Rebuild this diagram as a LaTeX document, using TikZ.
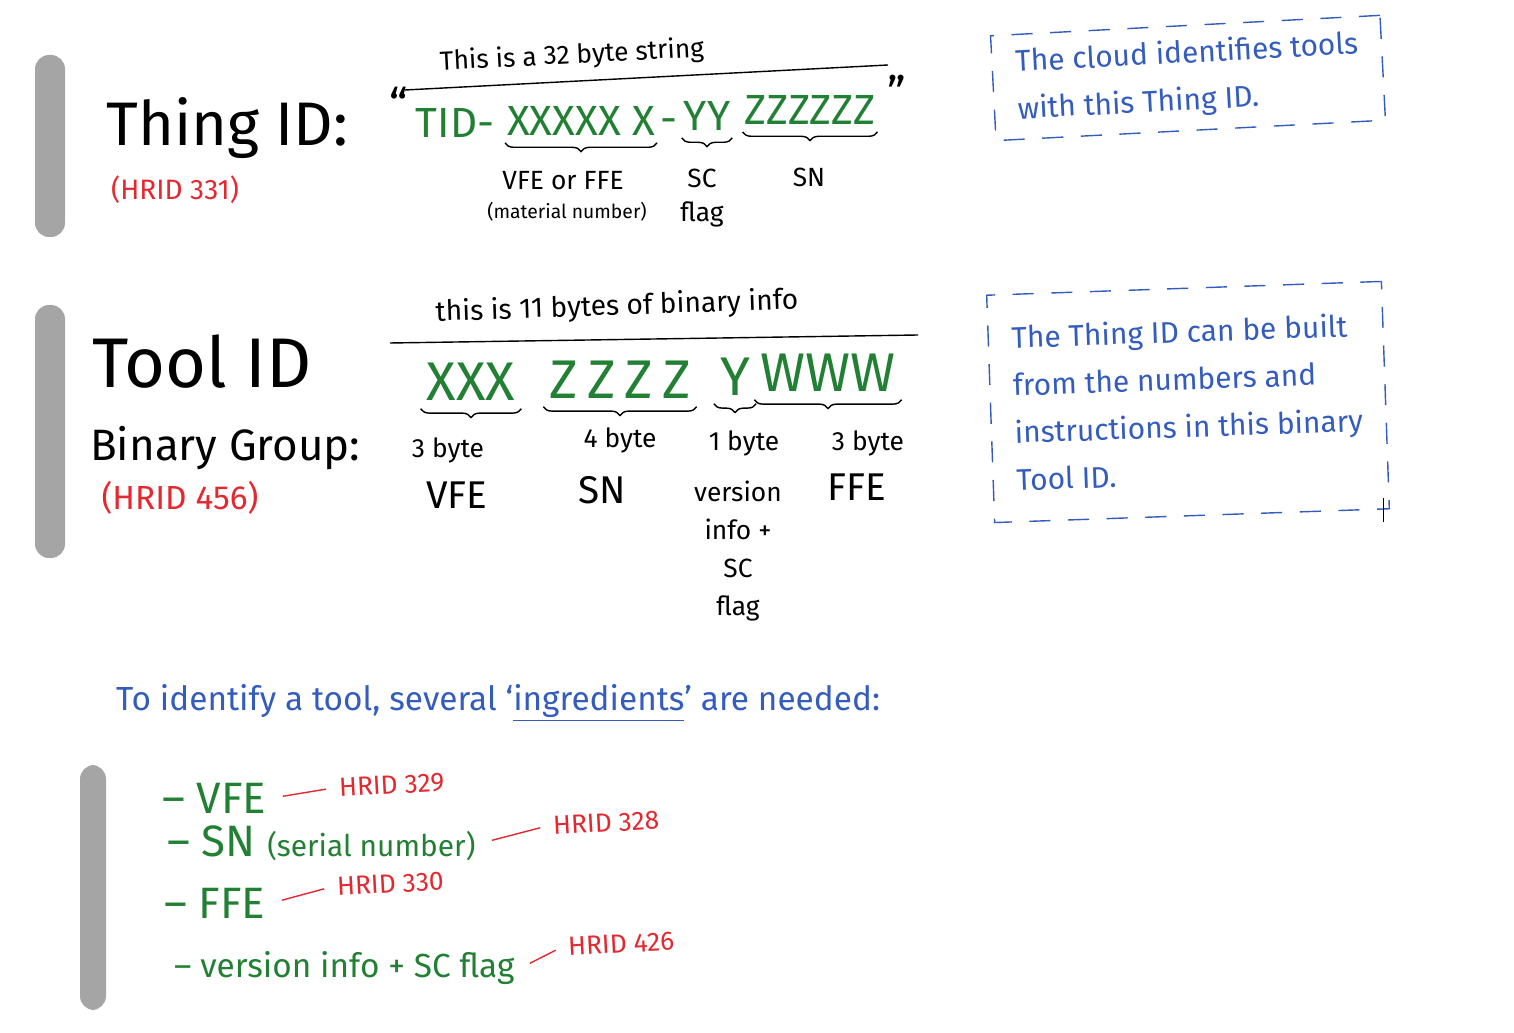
\documentclass[tikz,border=0pt]{standalone}
\usepackage{fontspec}
\setmainfont{Fira Sans}
\usetikzlibrary{decorations.pathreplacing}
\definecolor{inkgreen}{RGB}{34,128,52}
\definecolor{inkblue}{RGB}{52,92,190}
\definecolor{inkred}{RGB}{228,40,48}
\definecolor{blobgray}{RGB}{165,165,165}

\begin{document}
\begin{tikzpicture}[
    x=0.02cm, y=-0.02cm,
    blob/.style={fill=blobgray,rounded corners=8pt},
    rule/.style={line width=0.8pt},
    hand/.style={font=\fontsize{15}{18}\selectfont},
    lbl/.style={font=\fontsize{15}{21.5}\selectfont,align=center},
    lblbig/.style={font=\fontsize{22}{24}\selectfont},
    grn/.style={text=inkgreen,font=\fontsize{24}{26}\selectfont,inner sep=1pt},
    bingrp/.style={text=inkgreen,font=\fontsize{31}{33}\selectfont},
    brc/.style={decorate,decoration={brace,mirror,amplitude=5pt},thick},
    note/.style={draw=inkblue,thick,dash pattern=on 12pt off 10pt,
      text=inkblue,align=left,font=\fontsize{17}{27}\selectfont},
    hrid/.style={text=inkred},
    item/.style={anchor=west,text=inkgreen,font=\fontsize{25}{27}\selectfont},
    hridlbl/.style={anchor=west,text=inkred,rotate=3,font=\fontsize{15}{17}\selectfont},
    hrline/.style={draw=inkred,thick,shorten <=6pt,shorten >=4pt}
  ]
    \useasboundingbox (0,0) rectangle (1514,1033);

    % grey bars on the left
    \fill[blob] (35,55) rectangle (65,237);
    \fill[blob] (35,305) rectangle (65,558);
    \fill[blob] (80,765) rectangle (106,1010);

    % Thing ID
    \node[anchor=west,font=\fontsize{35}{37}\selectfont] (thing) at (100,128) {Thing ID:};
    \node[hrid,font=\fontsize{16}{18}\selectfont] (h331) at (175,190) {(HRID 331)};
    \node[hand,rotate=3] (str32) at (572,56) {This is a 32 byte string};
    \draw[rule] (405,90) -- (888,65);

    \node[font=\fontsize{26}{28}\selectfont,inner sep=0pt] (lq) at (399,104) {“};
    \node[grn] (tid) at (455,123) {TID-};
    \node[grn] (xs) at (581,121) {XXXXX X};
    \node[grn,anchor=base west] (dsh) at ([xshift=1pt,yshift=1pt]xs.base east) {-};
    \node[grn] (ys) at (707,116) {YY};
    \node[grn] (zs) at (810,110) {ZZZZZZ};
    \node[font=\fontsize{26}{28}\selectfont,inner sep=0pt] (rq) at (897,92) {”};

    \draw[brc] ([yshift=-3pt]xs.south west) -- ([yshift=-3pt]xs.south east);
    \draw[brc] ([yshift=-3pt]ys.south west) -- ([yshift=-3pt]ys.south east);
    \draw[brc] ([yshift=-3pt]zs.south west) -- ([yshift=-3pt]zs.south east);

    \node[hand] (vfeffe) at (563,181) {VFE or FFE};
    \node[font=\fontsize{11}{13}\selectfont] (matnum) at (567,212) {(material number)};
    \node[lbl,font=\fontsize{15}{19}\selectfont] (scflag1) at (702,198) {SC\\flag};
    \node[hand] (sn1) at (809,177) {SN};

    \node[note,rotate=3,minimum width=7.8cm,minimum height=2.1cm] (note1) at (1188,78)
      {The cloud identifies tools\\with this Thing ID.};

    % Tool ID
    \node[anchor=west,font=\fontsize{40}{42}\selectfont] (tool) at (86,362) {Tool ID};
    \node[anchor=west,font=\fontsize{25}{27}\selectfont] (bgroup) at (84,448) {Binary Group:};
    \node[hrid,font=\fontsize{19}{21}\selectfont] (h456) at (180,498) {(HRID 456)};
    \node[hand,rotate=2,font=\fontsize{16}{18}\selectfont] (bin11) at (617,307)
      {this is 11 bytes of binary info};
    \draw[rule] (390,343) -- (918,335);

    \node[bingrp] (xxx) at (471,382) {XXX};
    \node[bingrp] (zzzz) at (620,380) {Z\,Z\,Z\,Z};
    \node[bingrp] (yy) at (735,377) {Y};
    \node[bingrp] (www) at (828,373) {WWW};

    \draw[brc] ([yshift=-1pt]xxx.south west) -- ([yshift=-1pt]xxx.south east);
    \draw[brc] ([yshift=-1pt]zzzz.south west) -- ([yshift=-1pt]zzzz.south east);
    \draw[brc] ([yshift=-1pt]yy.south west) -- ([yshift=-1pt]yy.south east);
    \draw[brc] ([yshift=-1pt]www.south west) -- ([yshift=-1pt]www.south east);

    \node[lbl] (b3a) at (448,450) {3 byte};
    \node[lblbig] (vfe) at (457,495) {VFE};
    \node[lbl] (b4) at (620,440) {4 byte};
    \node[lblbig] (sn2) at (602,490) {SN};
    \node[lbl] (b1) at (744,443) {1 byte};
    \node[lbl] (ver) at (738,551) {version\\info +\\SC\\flag};
    \node[lbl] (b3b) at (868,443) {3 byte};
    \node[lblbig] (ffe) at (857,487) {FFE};

    \node[note,rotate=2,minimum width=7.9cm,minimum height=4.55cm] (note2) at (1188,402)
      {The Thing ID can be built\\from the numbers and\\instructions in this binary\\Tool ID.};
    \draw (1383,498) -- (1383,522);

    % ingredients
    \node[anchor=west,text=inkblue,font=\fontsize{19}{21}\selectfont] (needed) at (110,703)
      {To identify a tool, several ‘\underline{ingredients}’ are needed:};

    \node[item] (i1) at (156,798) {– VFE};
    \node[item] (i2) at (161,843) {– SN {\fontsize{17}{19}\selectfont(serial number)}};
    \node[item] (i3) at (158,903) {– FFE};
    \node[item,font=\fontsize{19}{21}\selectfont] (i4) at (168,968) {– version info + SC flag};

    \node[hridlbl] (h329) at (333,788) {HRID 329};
    \node[hridlbl] (h328) at (547,826) {HRID 328};
    \node[hridlbl] (h330) at (331,887) {HRID 330};
    \node[hridlbl] (h426) at (562,947) {HRID 426};

    \draw[hrline] (i1.east) -- (h329.west);
    \draw[hrline] (i2.east) -- (h328.west);
    \draw[hrline] (i3.east) -- (h330.west);
    \draw[hrline] (i4.east) -- (h426.west);
  \end{tikzpicture}
\end{document}
